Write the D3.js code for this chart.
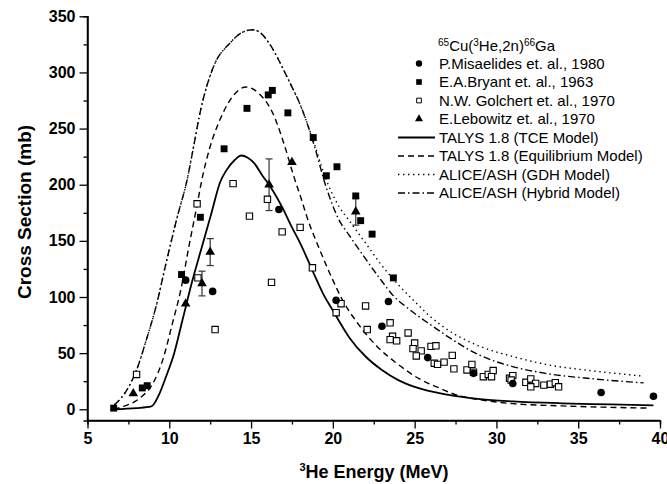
<!DOCTYPE html>
<html lang='en'>
<head>
<meta charset='utf8'>
<title>65Cu(3He,2n)66Ga</title>
<script src="https://cdn.jsdelivr.net/npm/d3@7"></script>
<style>
  body { margin: 0; background: #fff; }
  text { font-family: 'Liberation Sans', Arial, sans-serif; }
</style>
</head>
<body>
<svg id='chart' width='667' height='484'></svg>
<script>
// experimental data [energy MeV, cross section mb]
var misaelides = [[11.0,115],[12.65,105],[16.7,178],[20.2,97],[23.0,74],[23.4,96],[25.8,46],
    [28.6,32],[31.0,23],[36.4,15],[39.6,11.6]];
var bryant = [[6.6,1],[8.35,19],[8.65,21],[10.75,120],[11.9,171],[13.35,232],[14.75,268],
    [16.05,280],[16.3,284],[17.25,264],[18.8,242],[19.6,208],[20.25,216],[21.4,190],
    [21.7,168],[22.4,156],[23.7,117]];
var golchert = [[8.0,31],[11.7,183],[11.75,117],[12.8,71],[13.9,201],[14.9,172],[16.0,187],
    [16.25,113],[16.9,158],[18.0,162],[18.75,126],[20.2,86],[20.5,94],[22.0,92],[22.1,71],
    [23.5,77],[23.65,65],[23.5,62],[23.9,61],[24.6,68],[25.0,59],[24.9,54],[25.4,52],
    [25.1,47.5],[26.0,56],[26.3,56.5],[26.2,41],[26.4,40],[26.8,42],[27.3,48],[27.4,36],
    [28.2,35],[28.5,40],[28.6,33],[29.2,29],[29.5,31],[29.8,34.5],[29.7,29],[30.8,27.6],
    [31.0,30],[30.9,26],[31.8,24],[32.1,27],[32.4,23],[32.1,20],[32.9,21.5],[33.3,22.3],
    [33.6,23.7],[33.8,20]];
// [energy, value, error]
var lebowitz = [[7.8,14,0],[11.0,94,0],[12.0,112,11],[12.5,140,12],[16.1,200,23],
    [17.5,220,0],[21.4,176,12]];

// model curves
var talysTce = [[6.6,0],[8.0,1],[8.9,2.5],[9.4,14],[9.8,29],[10.3,50],[10.8,79],[11.4,114],
    [12.0,145],[12.6,176],[13.1,202],[13.5,213],[14.0,222],[14.4,226],[14.8,224],[15.2,219],
    [15.7,208],[16.1,200],[16.9,180],[17.5,162],[18.0,148],[18.8,122],[19.4,103],[20.0,88],
    [21.0,64],[22.0,47],[23.0,35],[24.0,26],[25.0,20],[27.0,13],[29.0,9],[31.0,7],[34.0,5.3],
    [37.0,4.3],[39.6,3.5]];
var talysEq = [[6.6,0],[7.2,2.5],[8.2,10],[9.0,23],[9.6,44],[10.2,77],[10.7,106],[11.2,145],
    [11.7,182],[12.0,205],[12.5,234],[13.1,258],[13.7,275],[14.7,287],[15.5,281],[16.35,263],
    [17.0,237],[17.6,208],[18.1,186],[18.4,172],[19.2,142],[20.0,115],[20.6,97],[21.6,75],
    [22.7,56],[23.9,41],[25.3,27],[26.5,19],[27.5,13],[29.0,8.5],[31.0,5],[34.0,3],[39.4,1]];
var aliceGdh = [[6.65,4],[7.4,17],[8.0,35],[8.6,62],[9.2,92],[9.8,130],[10.5,172],[11.1,205],
    [11.5,235],[11.85,262],[12.7,305],[13.7,326],[14.5,336],[15.1,338],[15.6,335],[16.1,326],
    [17.2,296],[18.2,264],[18.9,235],[19.5,208],[20.4,180],[21.0,168],[22.0,148],[23.0,128],
    [24.0,111],[25.0,96],[26.0,82],[27.0,71],[29.0,56],[31.0,47],[33.0,40],[36.0,34],[39.0,29.5]];
var aliceHybrid = [[6.65,4],[7.4,17],[8.0,35],[8.6,62],[9.2,92],[9.8,130],[10.5,172],[11.1,205],
    [11.5,235],[11.85,262],[12.7,305],[13.7,326],[14.5,336],[15.1,338],[15.6,335],[16.1,326],
    [17.2,296],[18.2,264],[18.9,233],[19.5,202],[20.4,168],[21.0,155],[22.0,134],[23.0,114],
    [23.7,101],[24.5,91],[26.0,75],[27.0,65],[29.0,48],[31.0,38],[33.0,32],[36.0,27],[39.0,23.5]];

var xTicks = [5,10,15,20,25,30,35,40];
var yTicks = [0,50,100,150,200,250,300,350];

var svg = d3.select('#chart');
var x = d3.scaleLinear().domain([5,40]).range([87.5,660]);
var y = d3.scaleLinear().domain([-10,350]).range([420.5,16.3]);

// axes
var xAxis = svg.append('g').attr('transform','translate(0,420.5)');
xAxis.call(d3.axisBottom(x).tickValues(xTicks).tickSize(8).tickPadding(4).tickFormat(d3.format('d')));
xAxis.append('g').call(d3.axisBottom(x).tickValues(d3.range(7.5,40,5)).tickSize(4).tickFormat(''));
var yAxis = svg.append('g').attr('transform','translate(87.5,0)');
yAxis.call(d3.axisLeft(y).tickValues(yTicks).tickSize(8).tickPadding(4));
yAxis.append('g').call(d3.axisLeft(y).tickValues(d3.range(25,350,50)).tickSize(4).tickFormat(''));
svg.selectAll('.domain').attr('stroke','#000').attr('stroke-width',1.5);
svg.selectAll('.tick line').attr('stroke','#000').attr('stroke-width',1.3);
svg.selectAll('.tick text').attr('fill','#000').style('font-size','16px').style('font-weight','bold');
yAxis.select('.domain').attr('d','M0,16.3V420.5');
xAxis.select('.domain').attr('d','M87.5,0H660');

// axis titles
var xt = svg.append('text').attr('x',374).attr('y',478).attr('text-anchor','middle')
    .style('font-size','18px').style('font-weight','bold');
xt.append('tspan').attr('dy','-7').style('font-size','11px').text('3');
xt.append('tspan').attr('dy','7').text('He Energy (MeV)');
svg.append('text').attr('transform','translate(31,212) rotate(-90)').attr('text-anchor','middle')
    .style('font-size','19px').style('font-weight','bold').text('Cross Section (mb)');

// curves
var line = d3.line().x(d => x(d[0])).y(d => y(d[1])).curve(d3.curveMonotoneX);
var curves = [
    {data: talysTce, dash: null, w: 1.8},
    {data: talysEq, dash: '6,4', w: 1.4},
    {data: aliceGdh, dash: '1.4,3.6', w: 1.4},
    {data: aliceHybrid, dash: '7,3,1.5,3', w: 1.4}
];
curves.forEach(function(c) {
    svg.append('path').attr('d', line(c.data)).attr('fill','none').attr('stroke','#000')
        .attr('stroke-width', c.w).attr('stroke-dasharray', c.dash);
});

// error bars
var eb = svg.append('g').attr('stroke','#333').attr('stroke-width',1.2);
lebowitz.filter(d => d[2] > 0).forEach(function(d) {
    var cx = x(d[0]), y1 = y(d[1]+d[2]), y2 = y(d[1]-d[2]);
    eb.append('line').attr('x1',cx).attr('x2',cx).attr('y1',y1).attr('y2',y2);
    eb.append('line').attr('x1',cx-3.5).attr('x2',cx+3.5).attr('y1',y1).attr('y2',y1);
    eb.append('line').attr('x1',cx-3.5).attr('x2',cx+3.5).attr('y1',y2).attr('y2',y2);
});

// markers
var sym = {
    circle: d3.symbol().type(d3.symbolCircle),
    square: d3.symbol().type(d3.symbolSquare),
    triangle: d3.symbol().type(d3.symbolTriangle)
};
function drawPoints(data, type, size, fill, stroke) {
    svg.append('g').selectAll('path').data(data).join('path')
        .attr('transform', d => 'translate(' + x(d[0]) + ',' + y(d[1]) + ')')
        .attr('d', sym[type].size(size)())
        .attr('fill', fill).attr('stroke', stroke).attr('stroke-width', 1.1);
}
drawPoints(golchert, 'square', 40, '#fff', '#000');
drawPoints(bryant, 'square', 48, '#000', 'none');
drawPoints(misaelides, 'circle', 45, '#000', 'none');
drawPoints(lebowitz, 'triangle', 40, '#000', 'none');

// legend
var lg = svg.append('g');
var title = lg.append('text').attr('x',438).attr('y',51).style('font-size','15px');
title.append('tspan').attr('dy','-5').style('font-size','10px').text('65');
title.append('tspan').attr('dy','5').text('Cu(');
title.append('tspan').attr('dy','-5').style('font-size','10px').text('3');
title.append('tspan').attr('dy','5').text('He,2n)');
title.append('tspan').attr('dy','-5').style('font-size','10px').text('66');
title.append('tspan').attr('dy','5').text('Ga');

var legendItems = [
    {label: 'P.Misaelides et. al., 1980', type: 'circle', fill: '#000', stroke: 'none', size: 32},
    {label: 'E.A.Bryant et. al., 1963', type: 'square', fill: '#000', stroke: 'none', size: 32},
    {label: 'N.W. Golchert et. al., 1970', type: 'square', fill: '#fff', stroke: '#000', size: 22},
    {label: 'E.Lebowitz et. al., 1970', type: 'triangle', fill: '#000', stroke: 'none', size: 28},
    {label: 'TALYS 1.8 (TCE Model)', line: curves[0]},
    {label: 'TALYS 1.8 (Equilibrium Model)', line: curves[1]},
    {label: 'ALICE/ASH (GDH Model)', line: curves[2]},
    {label: 'ALICE/ASH (Hybrid Model)', line: curves[3]}
];
legendItems.forEach(function(it, i) {
    var cy = 63.5 + i * 18.5;
    if (it.line) {
        lg.append('line').attr('x1',398).attr('x2',435).attr('y1',cy).attr('y2',cy)
            .attr('stroke','#000').attr('stroke-width',it.line.w).attr('stroke-dasharray',it.line.dash);
    } else {
        lg.append('path').attr('transform','translate(419,' + cy + ')')
            .attr('d', sym[it.type].size(it.size)())
            .attr('fill', it.fill).attr('stroke', it.stroke).attr('stroke-width', 1);
    }
    lg.append('text').attr('x',439).attr('y',cy + 5.3).style('font-size','15px').text(it.label);
});
</script>
</body>
</html>
